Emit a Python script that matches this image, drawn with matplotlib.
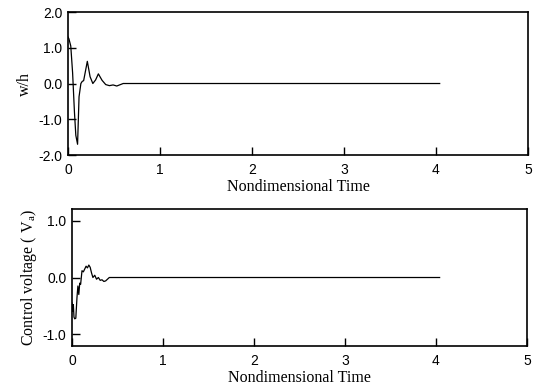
import matplotlib
matplotlib.use('Agg')
import matplotlib.pyplot as plt

plt.rcParams['font.family'] = 'Liberation Sans'
plt.rcParams['axes.unicode_minus'] = False
plt.rcParams['mathtext.fontset'] = 'custom'
plt.rcParams['mathtext.rm'] = 'Liberation Serif'
plt.rcParams['mathtext.it'] = 'Liberation Serif:italic'

# -- displacement response (w/h) --
t_w = [0.0, 0.01, 0.03, 0.05, 0.07, 0.085, 0.104, 0.12, 0.14, 0.155, 0.17, 0.21,
       0.24, 0.27, 0.30, 0.33, 0.37, 0.41, 0.45, 0.49, 0.53, 0.57, 0.60, 4.04]
w_h = [1.30, 1.25, 1.05, 0.30, -0.80, -1.45, -1.70, -0.37, 0.0, 0.06, 0.08, 0.62,
       0.19, 0.0, 0.10, 0.27, 0.09, -0.03, -0.06, -0.04, -0.07, -0.03, 0.0, 0.0]

# -- control voltage --
t_v = [0.0, 0.008, 0.015, 0.022, 0.03, 0.042, 0.055, 0.065, 0.075, 0.085, 0.095,
       0.11, 0.125, 0.14, 0.155, 0.17, 0.185, 0.2, 0.215, 0.23, 0.25, 0.27, 0.29,
       0.31, 0.33, 0.35, 0.37, 0.39, 0.41, 4.04]
volt = [-0.45, -0.60, -0.48, -0.70, -0.73, -0.72, -0.35, -0.15, -0.30, -0.10, -0.12,
        0.12, 0.10, 0.15, 0.20, 0.17, 0.22, 0.18, 0.08, 0.0, 0.04, -0.03, 0.0,
        -0.05, -0.04, -0.07, -0.06, -0.03, 0.0, 0.0]

xticks = [0, 1, 2, 3, 4, 5]
yticks_w = [-2.0, -1.0, 0.0, 1.0, 2.0]
yticks_v = [-1.0, 0.0, 1.0]

fig = plt.figure(figsize=(5.38, 3.85), dpi=100)
ax1 = fig.add_axes([0.1264, 0.5974, 0.855, 0.3714])
ax2 = fig.add_axes([0.1338, 0.1013, 0.8457, 0.3558])

serif = {'family': 'Liberation Serif', 'size': 11.5}

def style(ax, yticks):
    ax.set_xlim(0, 5)
    ax.set_xticks(xticks)
    ax.set_xticklabels([str(x) for x in xticks])
    ax.set_yticks(yticks)
    ax.set_yticklabels(['%.1f' % y for y in yticks])
    ax.tick_params(direction='in', length=6, width=1, labelsize=10,
                   top=False, right=False)
    ax.tick_params(axis='x', pad=6)
    ax.tick_params(axis='y', pad=4)
    for s in ax.spines.values():
        s.set_linewidth(1.2)
    ax.set_xlabel('Nondimensional Time', fontdict=serif, labelpad=1)

ax1.plot(t_w, w_h, color='black', lw=0.9)
ax1.set_ylim(-2.0, 2.0)
style(ax1, yticks_w)
ax1.set_ylabel('w/h', fontdict=serif, labelpad=4)

ax2.plot(t_v, volt, color='black', lw=0.9)
ax2.set_ylim(-1.21, 1.21)
style(ax2, yticks_v)
ax2.set_ylabel(r'Control voltage ( V$_{\mathrm{a}}$)', fontdict=serif, labelpad=3)

plt.savefig('out.png', dpi=100)
